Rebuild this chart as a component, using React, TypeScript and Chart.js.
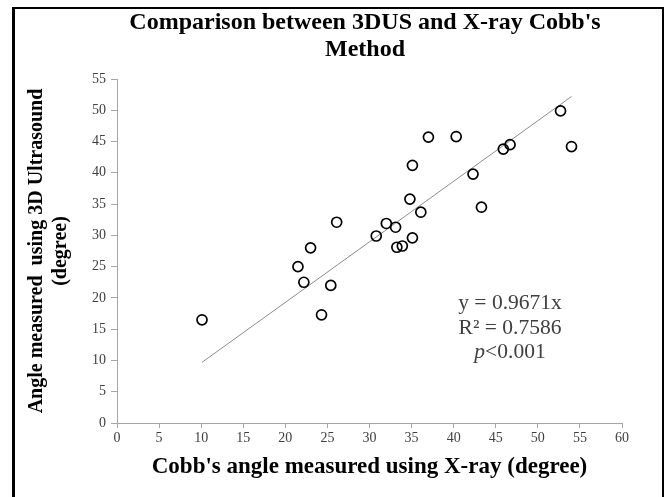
import React, { useEffect, useRef } from "react";
import { Chart, registerables } from "chart.js";

Chart.register(...registerables);

const titleLines = ["Comparison between 3DUS and X-ray Cobb's", "Method"];
const xAxisTitle = "Cobb's angle measured using X-ray (degree)";
const yAxisTitle = ["Angle measured  using 3D Ultrasound", "(degree)"];
const annotationLines = ["y = 0.9671x", "R² = 0.7586"];
const pLabelItalic = "p";
const pLabelRest = "<0.001";

const xValues = [10.1, 21.5, 22.2, 23.0, 24.3, 25.4, 26.1, 30.8, 32.0, 33.1, 33.25, 33.9, 35.1, 34.8, 35.1, 36.1, 37.0, 40.3, 42.3, 43.3, 45.9, 46.7, 52.7, 54.0];
const yValues = [16.5, 25.0, 22.5, 28.0, 17.3, 22.0, 32.1, 29.9, 31.9, 31.3, 28.1, 28.3, 29.6, 35.8, 41.2, 33.7, 45.7, 45.8, 39.8, 34.5, 43.8, 44.5, 49.9, 44.2];

const trendX = [10.1, 54.0];
const trendY = [9.7, 52.2];

const xMin = 0, xMax = 60, xStep = 5;
const yMin = 0, yMax = 55, yStep = 5;

const SERIF = '"Liberation Serif", "Times New Roman", serif';

const decorPlugin = {
  id: "decor",
  afterDraw(chart: any) {
    const ctx = chart.ctx as CanvasRenderingContext2D;
    ctx.save();
    // frame
    ctx.fillStyle = "#000";
    ctx.fillRect(12, 7, 3, 497);
    ctx.fillRect(12, 7, 652, 2);
    ctx.fillRect(662, 7, 2, 497);
    // title
    ctx.fillStyle = "#000";
    ctx.font = `bold 24px ${SERIF}`;
    ctx.textAlign = "center";
    ctx.textBaseline = "middle";
    ctx.fillText(titleLines[0], 365, 23);
    ctx.fillText(titleLines[1], 365, 50);
    // annotation
    ctx.fillStyle = "#404040";
    const fs = 21.5;
    ctx.font = `${fs}px ${SERIF}`;
    ctx.fillText(annotationLines[0], 510, 303);
    ctx.fillText(annotationLines[1], 510, 328);
    ctx.font = `italic ${fs}px ${SERIF}`;
    const wP = ctx.measureText(pLabelItalic).width;
    ctx.font = `${fs}px ${SERIF}`;
    const wR = ctx.measureText(pLabelRest).width;
    const startX = 510 - (wP + wR) / 2;
    ctx.textAlign = "left";
    ctx.font = `italic ${fs}px ${SERIF}`;
    ctx.fillText(pLabelItalic, startX, 352);
    ctx.font = `${fs}px ${SERIF}`;
    ctx.fillText(pLabelRest, startX + wP, 352);
    ctx.restore();
  },
};

export default function App() {
  const ref = useRef<HTMLCanvasElement>(null);
  useEffect(() => {
    const canvas = ref.current!;
    const points = xValues.map((x, i) => ({ x, y: yValues[i] }));
    const trend = trendX.map((x, i) => ({ x, y: trendY[i] }));
    const chart = new Chart(canvas, {
      type: "scatter",
      data: {
        datasets: [
          {
            label: "data",
            data: points,
            pointStyle: "circle",
            pointRadius: 5,
            pointBorderWidth: 1.7,
            pointBorderColor: "#000",
            pointBackgroundColor: "rgba(0,0,0,0)",
            order: 0,
          },
          {
            type: "line",
            label: "trend",
            data: trend,
            borderColor: "#8c8c8c",
            borderWidth: 1,
            pointRadius: 0,
            showLine: true,
            fill: false,
            order: 1,
          } as any,
        ],
      },
      options: {
        responsive: false,
        animation: false,
        devicePixelRatio: 1,
        layout: { padding: { left: 0, top: 79, right: 43, bottom: 0 } },
        plugins: {
          legend: { display: false },
          title: { display: false },
          tooltip: { enabled: false },
        },
        scales: {
          x: {
            type: "linear",
            min: xMin,
            max: xMax,
            afterFit: (s: any) => { s.height = 74; },
            ticks: {
              stepSize: xStep,
              color: "#404040",
              font: { family: SERIF, size: 14 },
              padding: 2,
              maxRotation: 0,
            },
            grid: { drawOnChartArea: false, drawTicks: true, tickLength: 5, color: "#a6a6a6" },
            border: { color: "#a6a6a6" },
            title: {
              display: true,
              text: xAxisTitle,
              color: "#000",
              font: { family: SERIF, size: 23, weight: "bold", lineHeight: 1.2 },
              padding: { top: 0, bottom: 16 },
            },
          },
          y: {
            type: "linear",
            min: yMin,
            max: yMax,
            afterFit: (s: any) => { s.width = 117; },
            ticks: {
              stepSize: yStep,
              color: "#404040",
              font: { family: SERIF, size: 14 },
              padding: 5,
            },
            grid: { drawOnChartArea: false, drawTicks: true, tickLength: 6, color: "#a6a6a6" },
            border: { color: "#a6a6a6" },
            title: {
              display: true,
              text: yAxisTitle,
              color: "#000",
              font: { family: SERIF, size: 20, weight: "bold", lineHeight: 1.2 },
              padding: { top: 25, bottom: 0 },
            },
          },
        },
      },
      plugins: [decorPlugin],
    });
    return () => chart.destroy();
  }, []);
  return (
    <div style={{ position: "absolute", left: 0, top: 0, width: 665, height: 497, background: "#fff" }}>
      <canvas ref={ref} width={665} height={497} style={{ display: "block" }} />
    </div>
  );
}
